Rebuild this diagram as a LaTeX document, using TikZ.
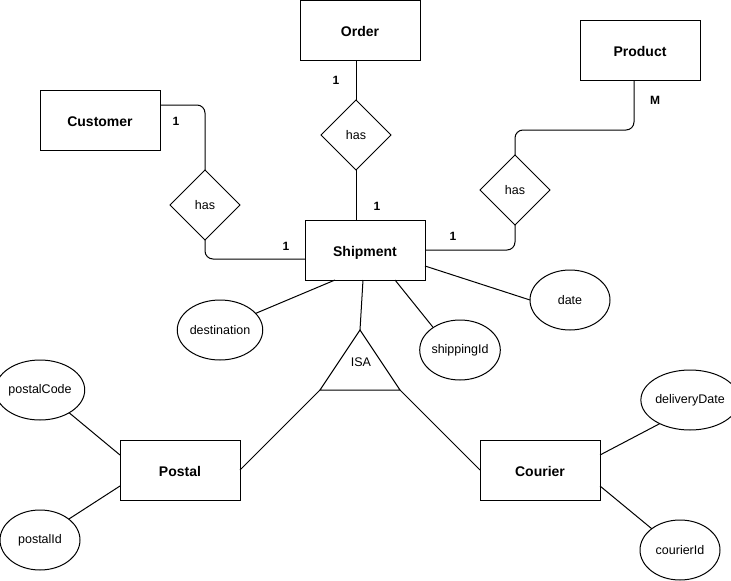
\documentclass[tikz,border=0pt]{standalone}
\usepackage{fontspec}
\setmainfont{Liberation Sans}
\usetikzlibrary{shapes.geometric}
\begin{document}
\begin{tikzpicture}[x=1pt,y=-1pt,line width=1pt,
  entity/.style={draw, minimum width=120pt, minimum height=60pt, inner sep=0pt, outer sep=0pt, text height=13pt, text depth=0pt, font=\fontsize{14}{16}\selectfont\bfseries},
  rel/.style={draw, diamond, minimum width=70pt, minimum height=70pt, inner sep=0pt, outer sep=0pt, font=\fontsize{12.5}{14}\selectfont},
  attr/.style={draw, ellipse, minimum width=80pt, minimum height=60pt, inner sep=0pt, outer sep=0pt, font=\fontsize{12.5}{14}\selectfont},
  card/.style={font=\fontsize{12}{14}\selectfont\bfseries, inner sep=0pt},
  plain/.style={font=\fontsize{12.5}{14}\selectfont, inner sep=0pt},
  link/.style={rounded corners=8pt}]
\useasboundingbox (0,0) rectangle (731,581);

% entities
\node[entity] (order) at (360,30) {Order};
\node[entity] (customer) at (100,120) {Customer};
\node[entity] (product) at (640,50) {Product};
\node[entity] (shipment) at (365,250) {Shipment};
\node[entity] (postal) at (180,470) {Postal};
\node[entity] (courier) at (540,470) {Courier};

% relationships
\node[rel] (chas) at (205,205) {has};
\node[rel] (ohas) at (356,135) {has};
\node[rel] (phas) at (515,190) {has};

% attributes
\node[attr] (dest) at (220,330) {destination};
\node[attr] (ship) at (460,350) {shippingId};
\node[attr] (date) at (570,300) {date};
\node[attr] (pcode) at (40,390) {postalCode};
\node[attr] (pid) at (40,540) {postalId};
\node[attr] (dd) at (690,400) {deliveryDate};
\node[attr] (cid) at (680,550) {courierId};

% ISA triangle
\coordinate (isatop) at (360,330);
\coordinate (isaleft) at (320,390);
\coordinate (isaright) at (400,390);
\draw (isatop) -- (isaleft) -- (isaright) -- cycle;
\node[plain] (isa) at (361,362) {ISA};

% relationship connectors
\draw[link] ([yshift=15pt]customer.east) -| (chas.north);
\draw[link] (chas.south) |- ([yshift=-9pt]shipment.west);
\draw (order.south -| ohas.north) -- (ohas.north);
\draw (ohas.south) -- (shipment.north -| ohas.south);
\coordinate (pbend) at (515,130);
\draw[link] ([xshift=-6pt]product.south) |- (pbend) -- (phas.north);
\draw[link] (phas.south) |- (shipment.east);

% attribute connectors
\draw ([xshift=-30pt]shipment.south) -- (dest.25);
\draw ([xshift=-2pt]shipment.south) -- (isatop);
\draw ([xshift=30pt]shipment.south) -- (ship.140);
\draw ([yshift=-16pt]shipment.east) -- (date.west);
\draw (isaleft) -- (postal.east);
\draw (isaright) -- (courier.west);
\draw ([yshift=15pt]postal.west) -- (pcode.-38);
\draw ([yshift=-16pt]postal.west) -- (pid.36);
\draw ([yshift=15pt]courier.east) -- (dd.218);
\draw ([yshift=-16pt]courier.east) -- (cid.143);

% cardinalities
\node[card] (c1) at (336,80) {1};
\node[card] (c2) at (176,121) {1};
\node[card] (c3) at (286,246) {1};
\node[card] (c4) at (377,206) {1};
\node[card] (c5) at (453,236) {1};
\node[card] (c6) at (655,100) {M};
\end{tikzpicture}
\end{document}
